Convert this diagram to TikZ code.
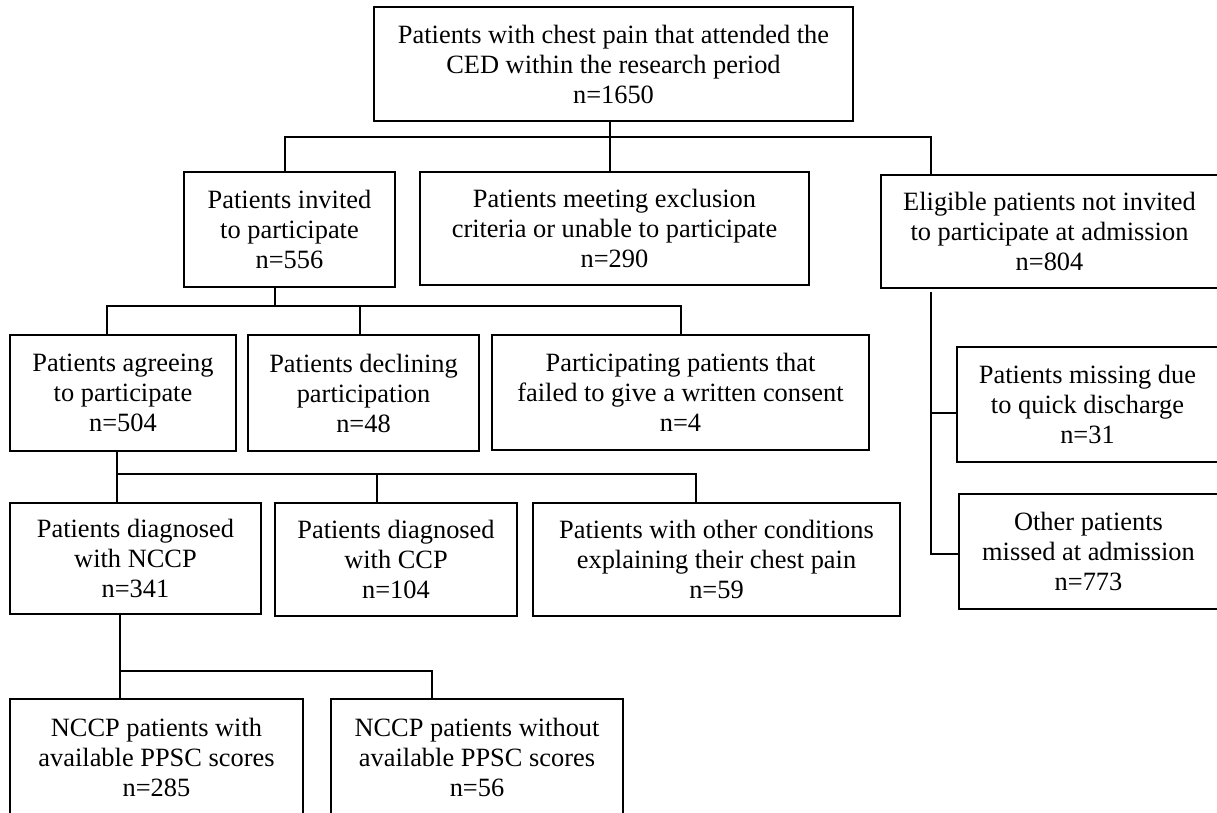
\documentclass[tikz,border=0pt]{standalone}
\usepackage{fontspec}
\setmainfont{Liberation Serif}
\usepackage{tikz}

\tikzset{
  box/.style 2 args={draw, rectangle, align=center, inner sep=0pt,
    minimum width=#1*0.5pt, minimum height=#2*0.5pt,
    font=\fontsize{13.2}{15}\selectfont},
  link/.style={draw, line width=0.7pt}
}

\begin{document}
\begin{tikzpicture}[x=0.5pt,y=-0.5pt,line width=0.7pt]
   \useasboundingbox (0,0) rectangle (1217,813);
   % level 0
   \node[box={479}{114}] (n_all)  at (613.5,64)  {Patients with chest pain that attended the\\CED within the research period\\n=1650};
   % level 1
   \node[box={211}{115}] (n_inv)  at (289.5,229.5) {Patients invited\\to participate\\n=556};
   \node[box={389}{113}] (n_excl) at (614.5,228.5) {Patients meeting exclusion\\criteria or unable to participate\\n=290};
   \node[box={337}{113}] (n_elig) at (1049.5,231.5) {Eligible patients not invited\\to participate at admission\\n=804};
   % level 2
   \node[box={226}{116}] (n_agr)  at (123,393)   {Patients agreeing\\to participate\\n=504};
   \node[box={231}{116}] (n_decl) at (363.5,393) {Patients declining\\participation\\n=48};
   \node[box={377}{115}] (n_cons) at (680.5,392.5) {Participating patients that\\failed to give a written consent\\n=4};
   \node[box={261}{115}] (n_miss) at (1087.5,404.5) {Patients missing due\\to quick discharge\\n=31};
   \node[box={259}{115}] (n_oth)  at (1088.5,551.5) {Other patients\\missed at admission\\n=773};
   % level 3
   \node[box={251}{111}] (n_nccp) at (135.5,558.5) {Patients diagnosed\\with NCCP\\n=341};
   \node[box={242}{113}] (n_ccp)  at (396,559.5)   {Patients diagnosed\\with CCP\\n=104};
   \node[box={367}{113}] (n_cond) at (716.5,559.5) {Patients with other conditions\\explaining their chest pain\\n=59};
   % level 4
   \node[box={293}{117}] (n_ppsc) at (156.5,757.5) {NCCP patients with\\available PPSC scores\\n=285};
   \node[box={292}{117}] (n_nopp) at (477,757.5)   {NCCP patients without\\available PPSC scores\\n=56};

   % junctions
   \coordinate (b_0) at (285,137);
   \coordinate (c_0) at (610,137);
   \coordinate (e_0) at (931,137);
   \coordinate (t_1) at (275,306);
   \coordinate (b_1) at (107,306);
   \coordinate (m_1) at (360,306);
   \coordinate (e_1) at (681,306);
   \coordinate (b_2) at (117,474);
   \coordinate (m_2) at (377,474);
   \coordinate (e_2) at (696,474);
   \coordinate (b_3) at (120,671);
   \coordinate (e_3) at (432,671);
   \coordinate (s_e) at (931,292);
   \coordinate (s_m) at (931,413);
   \coordinate (s_o) at (931,554);

   \path[link]
    (c_0 |- n_all.south) -- (c_0 |- n_excl.north)
    (b_0 |- n_inv.north) -- (b_0) -- (e_0) -- (e_0 |- n_elig.north)
    (t_1 |- n_inv.south) -- (t_1)
    (b_1 |- n_agr.north) -- (b_1) -- (e_1) -- (e_1 |- n_cons.north)
    (m_1) -- (m_1 |- n_decl.north)
    (b_2 |- n_agr.south) -- (b_2) -- (e_2) -- (e_2 |- n_cond.north)
    (b_2) -- (b_2 |- n_nccp.north)
    (m_2) -- (m_2 |- n_ccp.north)
    (b_3 |- n_nccp.south) -- (b_3) -- (e_3) -- (e_3 |- n_nopp.north)
    (b_3) -- (b_3 |- n_ppsc.north)
    (s_e) -- (s_o) -- (s_o -| n_oth.west)
    (s_m) -- (s_m -| n_miss.west);
\end{tikzpicture}
\end{document}
